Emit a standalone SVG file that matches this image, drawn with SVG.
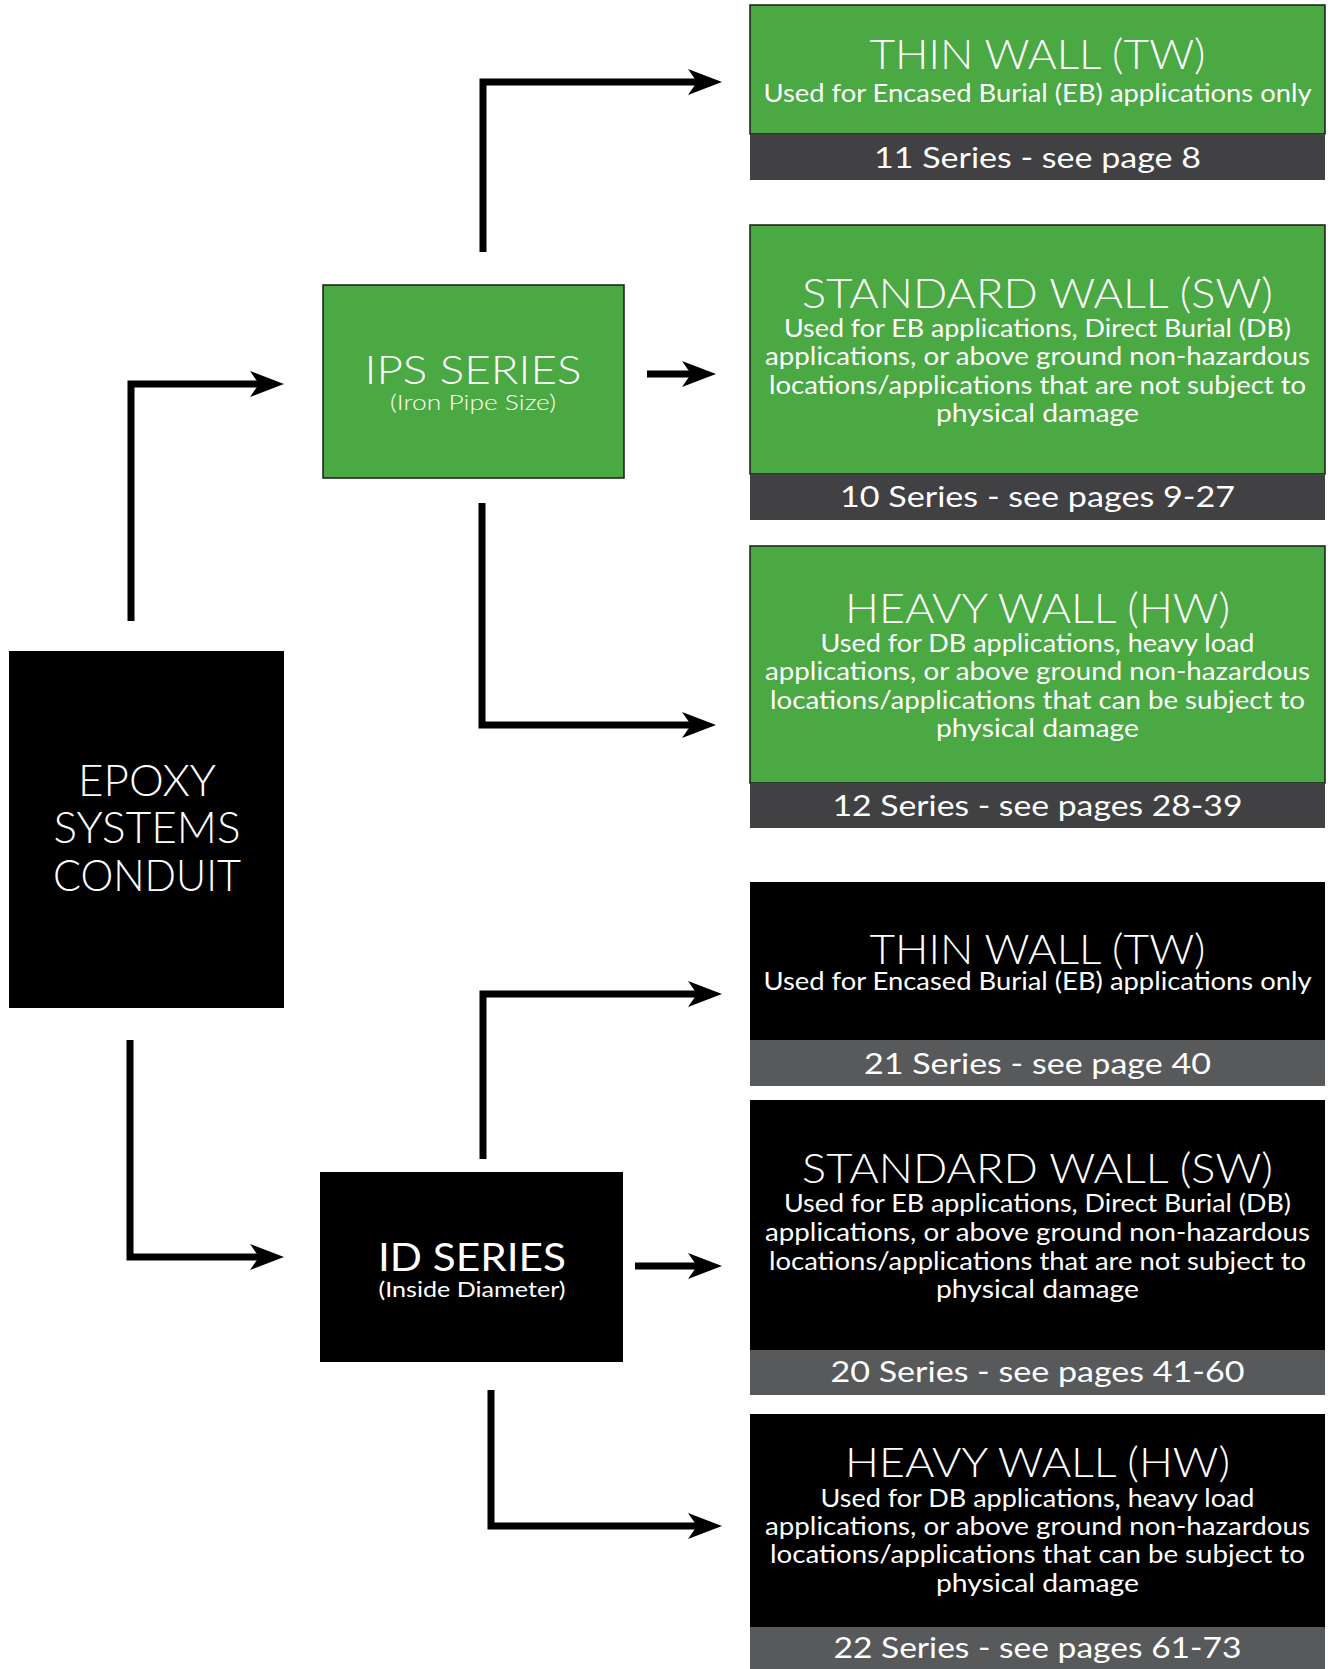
<svg xmlns="http://www.w3.org/2000/svg" width="1331" height="1669" viewBox="0 0 1331 1669">
<defs>
<style>
text{font-family:Lato,"Open Sans","Liberation Sans",sans-serif;fill:#fff;text-anchor:middle}
.g{fill:#4aa942;stroke:#1a1a1a;stroke-width:1.5}
.k{fill:#000}
.bd{fill:#414042}
.bl{fill:#58595b}
.t{font-size:42px;font-weight:300}
.s{font-size:25px}
.b{font-size:29px}
.lt{font-weight:300}
.c{fill:none;stroke:#000;stroke-width:7;stroke-linejoin:miter}
</style>
<marker id="ah" viewBox="0 0 34 26" refX="14" refY="13" markerWidth="34" markerHeight="26" markerUnits="userSpaceOnUse" orient="auto">
<path d="M0,0 L34,13 L0,26 L9,13 Z" fill="#000"/>
</marker>
</defs>
<rect width="1331" height="1669" fill="#fff"/>

<g id="connectors">
<path class="c" d="M131,621 V384 H264" marker-end="url(#ah)"/>
<path class="c" d="M130,1040 V1257 H264" marker-end="url(#ah)"/>
<path class="c" d="M483,252 V82 H702" marker-end="url(#ah)"/>
<path class="c" d="M647,374 H696" marker-end="url(#ah)"/>
<path class="c" d="M482,503 V725 H696" marker-end="url(#ah)"/>
<path class="c" d="M483,1159 V994 H702" marker-end="url(#ah)"/>
<path class="c" d="M635,1266 H702" marker-end="url(#ah)"/>
<path class="c" d="M491,1390 V1526 H702" marker-end="url(#ah)"/>
</g>

<g id="epoxy">
<rect class="k" x="9" y="651" width="275" height="357"/>
<text class="lt" x="147" y="796" font-size="44" textLength="138" lengthAdjust="spacingAndGlyphs">EPOXY</text>
<text class="lt" x="147" y="843" font-size="44" textLength="187" lengthAdjust="spacingAndGlyphs">SYSTEMS</text>
<text class="lt" x="147" y="891" font-size="44" textLength="188" lengthAdjust="spacingAndGlyphs">CONDUIT</text>
</g>

<g id="ips">
<rect class="g" x="323" y="285" width="301" height="193"/>
<text class="lt" x="473" y="384" font-size="40" textLength="217" lengthAdjust="spacingAndGlyphs">IPS SERIES</text>
<text class="lt" x="473" y="410" font-size="22" textLength="166" lengthAdjust="spacingAndGlyphs">(Iron Pipe Size)</text>
</g>

<g id="id">
<rect class="k" x="320" y="1172" width="303" height="190"/>
<text x="472" y="1271" font-size="39" textLength="188" lengthAdjust="spacingAndGlyphs">ID SERIES</text>
<text x="472" y="1297" font-size="22" textLength="187" lengthAdjust="spacingAndGlyphs">(Inside Diameter)</text>
</g>

<g id="ips-tw">
<rect class="g" x="750" y="5" width="575" height="129"/>
<rect class="bd" x="750" y="134" width="575" height="46"/>
<text class="t" x="1037.5" y="69" textLength="336" lengthAdjust="spacingAndGlyphs">THIN WALL (TW)</text>
<text class="s" x="1037.5" y="102" textLength="548" lengthAdjust="spacingAndGlyphs">Used for Encased Burial (EB) applications only</text>
<text class="b" x="1037.5" y="168" textLength="327" lengthAdjust="spacingAndGlyphs">11 Series - see page 8</text>
</g>

<g id="ips-sw">
<rect class="g" x="750" y="225" width="575" height="249"/>
<rect class="bd" x="750" y="474" width="575" height="46"/>
<text class="t" x="1037.5" y="308" textLength="471" lengthAdjust="spacingAndGlyphs">STANDARD WALL (SW)</text>
<text class="s" x="1037.5" y="337" textLength="507" lengthAdjust="spacingAndGlyphs">Used for EB applications, Direct Burial (DB)</text>
<text class="s" x="1037.5" y="365" textLength="545" lengthAdjust="spacingAndGlyphs">applications, or above ground non-hazardous</text>
<text class="s" x="1037.5" y="394" textLength="537" lengthAdjust="spacingAndGlyphs">locations/applications that are not subject to</text>
<text class="s" x="1037.5" y="422" textLength="203" lengthAdjust="spacingAndGlyphs">physical damage</text>
<text class="b" x="1037.5" y="507" textLength="395" lengthAdjust="spacingAndGlyphs">10 Series - see pages 9-27</text>
</g>

<g id="ips-hw">
<rect class="g" x="750" y="546" width="575" height="237"/>
<rect class="bd" x="750" y="783" width="575" height="45"/>
<text class="t" x="1037.5" y="623" textLength="385" lengthAdjust="spacingAndGlyphs">HEAVY WALL (HW)</text>
<text class="s" x="1037.5" y="652" textLength="434" lengthAdjust="spacingAndGlyphs">Used for DB applications, heavy load</text>
<text class="s" x="1037.5" y="680" textLength="545" lengthAdjust="spacingAndGlyphs">applications, or above ground non-hazardous</text>
<text class="s" x="1037.5" y="709" textLength="535" lengthAdjust="spacingAndGlyphs">locations/applications that can be subject to</text>
<text class="s" x="1037.5" y="737" textLength="203" lengthAdjust="spacingAndGlyphs">physical damage</text>
<text class="b" x="1037.5" y="816" textLength="410" lengthAdjust="spacingAndGlyphs">12 Series - see pages 28-39</text>
</g>

<g id="id-tw">
<rect class="k" x="750" y="882" width="575" height="158"/>
<rect class="bl" x="750" y="1040" width="575" height="46"/>
<text class="t" x="1037.5" y="964" textLength="336" lengthAdjust="spacingAndGlyphs">THIN WALL (TW)</text>
<text class="s" x="1037.5" y="990" textLength="548" lengthAdjust="spacingAndGlyphs">Used for Encased Burial (EB) applications only</text>
<text class="b" x="1037.5" y="1074" textLength="347" lengthAdjust="spacingAndGlyphs">21 Series - see page 40</text>
</g>

<g id="id-sw">
<rect class="k" x="750" y="1100" width="575" height="250"/>
<rect class="bl" x="750" y="1350" width="575" height="45"/>
<text class="t" x="1037.5" y="1183" textLength="471" lengthAdjust="spacingAndGlyphs">STANDARD WALL (SW)</text>
<text class="s" x="1037.5" y="1212" textLength="507" lengthAdjust="spacingAndGlyphs">Used for EB applications, Direct Burial (DB)</text>
<text class="s" x="1037.5" y="1241" textLength="545" lengthAdjust="spacingAndGlyphs">applications, or above ground non-hazardous</text>
<text class="s" x="1037.5" y="1270" textLength="537" lengthAdjust="spacingAndGlyphs">locations/applications that are not subject to</text>
<text class="s" x="1037.5" y="1298" textLength="203" lengthAdjust="spacingAndGlyphs">physical damage</text>
<text class="b" x="1037.5" y="1382" textLength="414" lengthAdjust="spacingAndGlyphs">20 Series - see pages 41-60</text>
</g>

<g id="id-hw">
<rect class="k" x="750" y="1414" width="575" height="213"/>
<rect class="bl" x="750" y="1627" width="575" height="42"/>
<text class="t" x="1037.5" y="1477" textLength="385" lengthAdjust="spacingAndGlyphs">HEAVY WALL (HW)</text>
<text class="s" x="1037.5" y="1507" textLength="434" lengthAdjust="spacingAndGlyphs">Used for DB applications, heavy load</text>
<text class="s" x="1037.5" y="1535" textLength="545" lengthAdjust="spacingAndGlyphs">applications, or above ground non-hazardous</text>
<text class="s" x="1037.5" y="1563" textLength="535" lengthAdjust="spacingAndGlyphs">locations/applications that can be subject to</text>
<text class="s" x="1037.5" y="1592" textLength="203" lengthAdjust="spacingAndGlyphs">physical damage</text>
<text class="b" x="1037.5" y="1658" textLength="408" lengthAdjust="spacingAndGlyphs">22 Series - see pages 61-73</text>
</g>
</svg>
